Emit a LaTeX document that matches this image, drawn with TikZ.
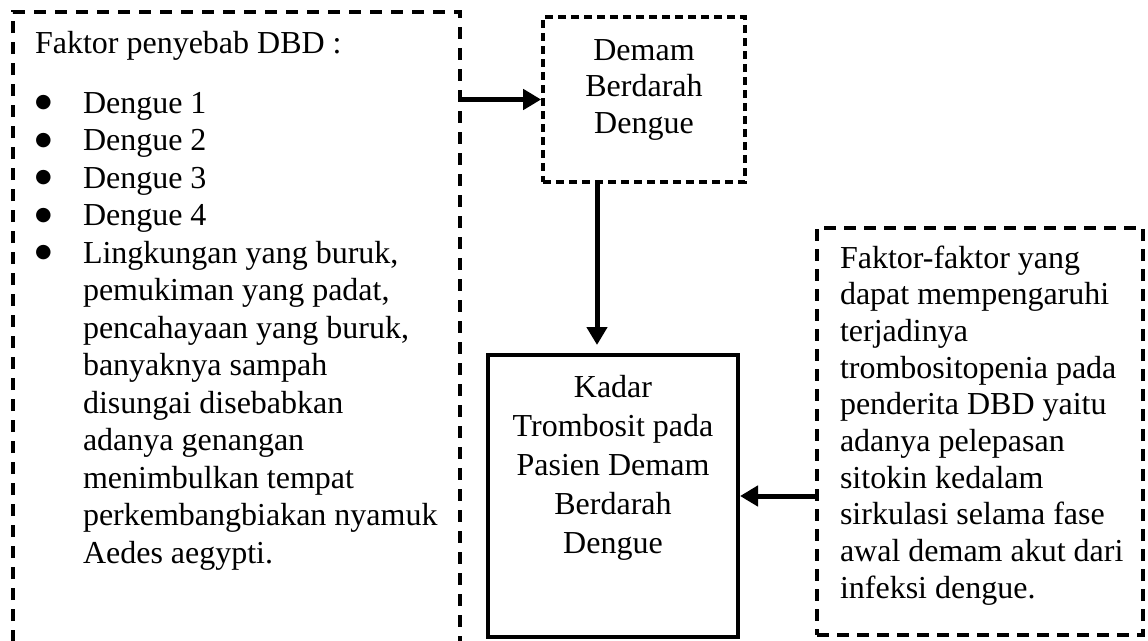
\documentclass[tikz,border=0pt]{standalone}
\usepackage{fontspec}
\setmainfont{Liberation Serif}
\newfontfamily\dejavu{DejaVu Sans}
\usetikzlibrary{arrows.meta}
\newcommand{\bigbul}{\makebox[48pt][l]{\hspace*{0pt}{\dejavu\fontsize{19}{19}\selectfont\raisebox{5.5pt}{●}}}}
\begin{document}
\begin{tikzpicture}[x=1pt,y=-1pt,
  txt/.style={font=\fontsize{32}{36.7}\selectfont, inner sep=0pt, outer sep=0pt},
  leftdash/.style={line width=3.7pt, dash pattern=on 12pt off 9pt},
  demambox/.style={draw, line width=3.7pt, dash pattern=on 8pt off 5pt, minimum width=202pt, minimum height=165pt, inner sep=0pt},
  rightbox/.style={draw, line width=3.7pt, dash pattern=on 12pt off 8pt, minimum width=326pt, minimum height=407pt, inner sep=0pt},
  solidbox/.style={draw, line width=4pt, minimum width=250pt, minimum height=282pt, inner sep=0pt},
  arr/.style={line width=5pt, -{Triangle[length=18pt,width=20pt]}}]
\useasboundingbox (0,0) rectangle (1148,640);
% left box (open at the bottom)
\coordinate (lbSW) at (13,642);
\coordinate (lbNW) at (13,12);
\coordinate (lbNE) at (460,12);
\coordinate (lbSE) at (460,642);
\draw[leftdash] (lbSW) -- (lbNW) -- (lbNE) -- (lbSE);
\node[txt, anchor=base west] (lbtitle) at (35,53) {Faktor penyebab DBD :};
\node[txt, anchor=base west] (lblist) at (35,113) {\begin{minipage}[t]{420pt}\fontsize{32}{37.5}\selectfont
\bigbul Dengue 1\\
\bigbul Dengue 2\\
\bigbul Dengue 3\\
\bigbul Dengue 4\\
\bigbul Lingkungan yang buruk,\\
\hspace*{48pt}pemukiman yang padat,\\
\hspace*{48pt}pencahayaan yang buruk,\\
\hspace*{48pt}banyaknya sampah\\
\hspace*{48pt}disungai disebabkan\\
\hspace*{48pt}adanya genangan\\
\hspace*{48pt}menimbulkan tempat\\
\hspace*{48pt}perkembangbiakan nyamuk\\
\hspace*{48pt}Aedes aegypti.
\end{minipage}};
% Demam box
\node[demambox] (demam) at (644,99.5) {};
\node[txt, anchor=base] (demamtxt) at (644,60) {\begin{minipage}[t]{200pt}\centering\fontsize{32}{36.7}\selectfont
Demam\\Berdarah\\Dengue\end{minipage}};
% Kadar box
\node[solidbox] (kadar) at (613,496) {};
\node[txt, anchor=base] (kadartxt) at (613,397) {\begin{minipage}[t]{246pt}\centering\fontsize{32}{39}\selectfont
Kadar\\Trombosit pada\\Pasien Demam\\Berdarah\\Dengue\end{minipage}};
% right box
\node[rightbox] (rbox) at (980,431.5) {};
\node[txt, anchor=base west] (rboxtxt) at (840,268) {\begin{minipage}[t]{300pt}\fontsize{32}{36.7}\selectfont
Faktor-faktor yang\\
dapat mempengaruhi\\
terjadinya\\
trombositopenia pada\\
penderita DBD yaitu\\
adanya pelepasan\\
sitokin kedalam\\
sirkulasi selama fase\\
awal demam akut dari\\
infeksi dengue.\end{minipage}};
% connectors
\draw[arr] (lbNE |- demam.west) -- (demam.west);
\draw[arr, shorten >=8pt] ([xshift=-47pt]demam.south) -- ([xshift=-47pt]demam.south |- kadar.north);
\draw[arr] (rbox.west |- kadar.east) -- (kadar.east);
\end{tikzpicture}
\end{document}
